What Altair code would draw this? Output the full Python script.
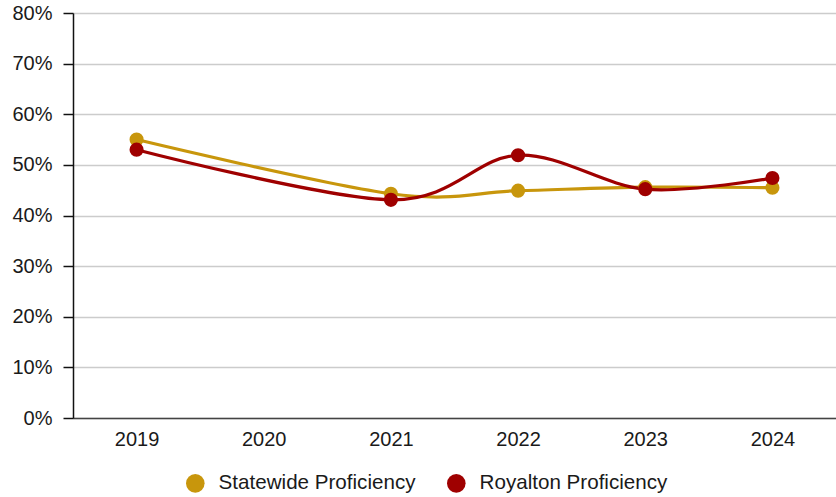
import altair as alt
import pandas as pd

years = ["2019", "2020", "2021", "2022", "2023", "2024"]
series_names = ["Statewide Proficiency", "Royalton Proficiency"]
statewide_years = ["2019", "2021", "2022", "2023", "2024"]
statewide = [0.55, 0.443, 0.449, 0.456, 0.455]
royalton_years = ["2019", "2021", "2022", "2023", "2024"]
royalton = [0.530, 0.431, 0.519, 0.452, 0.474]
colors = ["#c8960c", "#9f0000"]

rows = []
for y, v in zip(statewide_years, statewide):
    rows.append({"Year": y, "Value": v, "Series": series_names[0], "order": 0})
for y, v in zip(royalton_years, royalton):
    rows.append({"Year": y, "Value": v, "Series": series_names[1], "order": 1})
df = pd.DataFrame(rows)

font = "Liberation Sans"
fs = 20

x = alt.X("Year:O", scale=alt.Scale(domain=years, paddingOuter=0.5, paddingInner=0),
          axis=alt.Axis(title=None, labelAngle=0, labelFontSize=fs, labelFont=font,
                        labelColor="#1a1a1a", ticks=False, domainColor="#444444",
                        domainWidth=1.5, labelPadding=11, grid=False))
y = alt.Y("Value:Q", scale=alt.Scale(domain=[0, 0.8], nice=False),
          axis=alt.Axis(title=None, format=".0%", values=[i / 10 for i in range(9)],
                        labelFontSize=fs, labelFont=font, labelColor="#1a1a1a",
                        tickSize=10, tickColor="#111111", tickWidth=1.5,
                        domainColor="#111111", domainWidth=1.5, labelPadding=11,
                        gridColor="#cccccc", gridWidth=1.5))
color = alt.Color("Series:N", scale=alt.Scale(domain=series_names, range=colors),
                  legend=alt.Legend(title=None, orient="none", direction="horizontal",
                                    legendX=112, legendY=460, symbolType="circle",
                                    symbolSize=345, symbolStrokeWidth=0,
                                    symbolOpacity=1,
                                    labelFontSize=20.6, labelFont=font, labelColor="#1a1a1a",
                                    columnPadding=30, labelOffset=13, labelLimit=400))

base = alt.Chart(df).encode(x=x, y=y, color=color,
                            order=alt.Order("order:Q"))
lines = base.mark_line(interpolate="cardinal", strokeWidth=3.2)
points = base.mark_circle(size=200, opacity=1)

chart = alt.layer(lines, points).properties(
    width=763, height=405,
    padding={"left": 73, "top": 13, "right": 0, "bottom": 79},
    autosize=alt.AutoSizeParams(type="none"),
).configure_view(stroke=None).configure(background="white")

chart.save("out.html", embed_options={"renderer": "svg", "actions": False})
